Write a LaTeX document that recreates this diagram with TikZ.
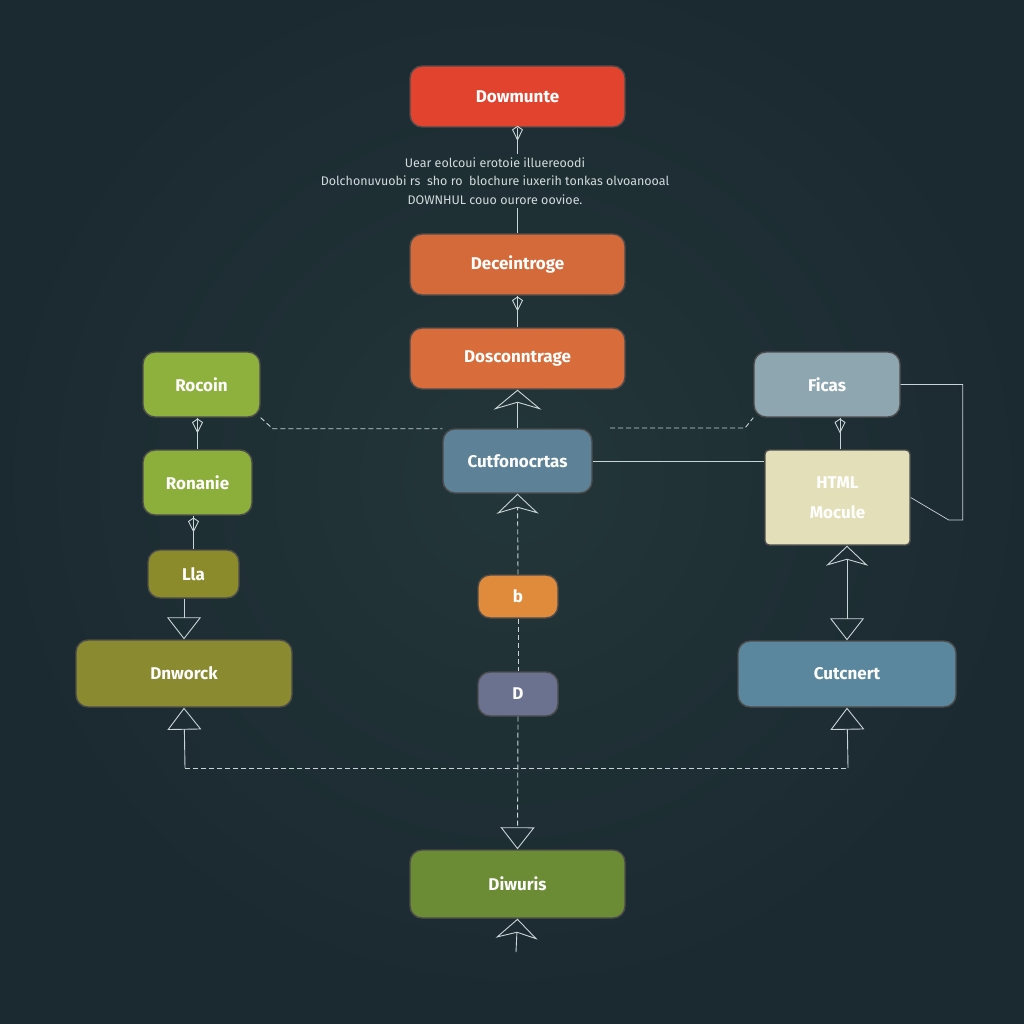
\documentclass[tikz,border=0pt]{standalone}
\usepackage{fontspec}
\setmainfont{Fira Sans}
\usetikzlibrary{arrows.meta,decorations.markings,calc}
\definecolor{bgc}{HTML}{1B2A31}
\definecolor{bgl}{HTML}{233639}
\definecolor{cred}{HTML}{E2432F}
\definecolor{corA}{HTML}{D4693A}
\definecolor{corB}{HTML}{D86C3A}
\definecolor{cblue}{HTML}{5D8297}
\definecolor{cgrA}{HTML}{8DB13C}
\definecolor{cgrB}{HTML}{8CAE3A}
\definecolor{colA}{HTML}{8B8B2C}
\definecolor{colB}{HTML}{8A8A30}
\definecolor{cfic}{HTML}{8EA6B0}
\definecolor{chtm}{HTML}{E3DFB8}
\definecolor{ccut}{HTML}{5A879D}
\definecolor{corC}{HTML}{E08A3C}
\definecolor{cgray}{HTML}{6B7290}
\definecolor{cfin}{HTML}{6B8C35}
\definecolor{lnc}{HTML}{C9D4D6}
\tikzset{
  box/.style={rounded corners=12pt, draw=black!70, line width=1.4pt, inner sep=0pt,
    text=white, font=\fontsize{17}{20}\selectfont\bfseries, align=center},
  conn/.style={draw=lnc, line width=0.9pt},
  dconn/.style={draw=lnc, line width=0.9pt, dash pattern=on 5pt off 3pt},
  kitemid/.style={postaction={decorate, decoration={markings,
     mark=at position 0.5 with {\arrow{Kite[open,length=15pt,width=11pt,line width=0.9pt]}}}}},
  tri/.tip={Triangle[open,length=22pt,width=34pt,line width=0.9pt]},
  chev/.tip={Stealth[open,length=20pt,width=42pt,inset=6pt,line width=0.9pt]},
  bigchev/.tip={Stealth[open,length=20pt,width=48pt,inset=7pt,line width=0.9pt]},
}
\begin{document}
\begin{tikzpicture}[x=1pt,y=-1pt]
\useasboundingbox (0,0) rectangle (1024,1024);
\fill[bgc] (0,0) rectangle (1024,1024);
\shade[inner color=bgl, outer color=bgc] (512,480) circle (520);
% nodes
\node[box, fill=cred, minimum width=215pt, minimum height=61pt] (top) at (517.5,96.5) {Dowmunte};
\node[text=lnc!85, font=\fontsize{12.5}{18.5}\selectfont, align=center] (desc) at (495,181)
  {Uear eolcoui erotoie illuereoodi\\ Dolchonuvuobi rs\ \ sho ro\ \ blochure iuxerih tonkas olvoanooal\\ DOWNHUL couo ourore oovioe.};
\node[box, fill=corA, minimum width=215pt, minimum height=61pt] (dec) at (517.5,264.5) {Deceintroge};
\node[box, fill=corB, minimum width=215pt, minimum height=61pt] (dos) at (517.5,358.5) {Dosconntrage};
\node[box, fill=cblue, minimum width=149pt, minimum height=64pt] (cut) at (517.5,461) {Cutfonocrtas};
\node[box, fill=cgrA, minimum width=117pt, minimum height=65pt] (roc) at (201.5,384.5) {Rocoin};
\node[box, fill=cgrB, minimum width=109pt, minimum height=65pt] (ron) at (197.5,482.5) {Ronanie};
\node[box, fill=colA, minimum width=91pt, minimum height=48pt] (lla) at (193.5,574) {Lla};
\node[box, fill=colB, minimum width=216pt, minimum height=67pt] (dnw) at (184,673.5) {Dnworck};
\node[box, fill=cfic, minimum width=146pt, minimum height=65pt] (fic) at (827,384.5) {Ficas};
\node[box, fill=chtm, rounded corners=4pt, minimum width=145pt, minimum height=95pt, font=\fontsize{17}{30}\selectfont\bfseries] (htm) at (837.5,497.5) {HTML\\Mocule};
\node[box, fill=ccut, minimum width=218pt, minimum height=66pt] (cnt) at (847,674) {Cutcnert};
\node[box, fill=corC, minimum width=80pt, minimum height=43pt] (bb) at (518,596.5) {b};
\node[box, fill=cgray, minimum width=80pt, minimum height=44pt] (dd) at (518,694) {D};
\node[box, fill=cfin, minimum width=215pt, minimum height=68pt] (fin) at (517.5,884) {Diwuris};
% coordinates
\coordinate (bl) at (185,768);
\coordinate (br) at (848,768);
\coordinate (finend) at (516,952);
% center chain
\draw[conn, kitemid] (top) -- (desc.north -| top.south);
\draw[conn] (desc.south -| top.south) -- (dec);
\draw[conn, kitemid] (dec) -- (dos);
\draw[conn, -{bigchev}] (cut) -- (dos);
\draw[dconn, -{chev}] (bb.north) -- (cut.south);
\draw[dconn] (bb) -- (dd);
\draw[dconn, -{tri}] (dd.south) -- (fin.north);
\draw[conn, -{chev}] (finend) -- (fin.south);
% left chain
\draw[conn, kitemid] (roc.south -| ron.north) -- (ron.north);
\draw[conn, kitemid] (ron.south -| lla.north) -- (lla.north);
\draw[conn, -{tri}] (lla.south -| dnw.north) -- (dnw.north);
\draw[dconn] (bl) -- (br);
\draw[conn, -{tri}] (bl) -- (dnw.south);
\draw[conn, -{tri}] (br) -- (cnt.south);
% cross links
\draw[dconn] (roc.south east) -- ++(12,11) coordinate (l1) -- (l1 -| cut.north west);
\coordinate (r0) at (610,428);
\coordinate (r1) at (745,428);
\draw[dconn] (r0) -- (r1) -- (fic.south west);
\draw[conn, line width=0.6pt] (cut.east) -- (cut.east -| htm.west);
% right chain
\draw[conn, kitemid] (fic.south -| 840,0) -- (htm.north -| 840,0);
\draw[conn, line width=0.7pt] (fic.east) -- ++(62,0) coordinate (f1) -- (f1 |- 0,520) coordinate (f2) -- ++(-14,0) coordinate (f3) -- (htm.east);
\draw[conn, {chev}-{tri}] (htm.south -| cnt.north) -- (cnt.north);
\end{tikzpicture}
\end{document}
